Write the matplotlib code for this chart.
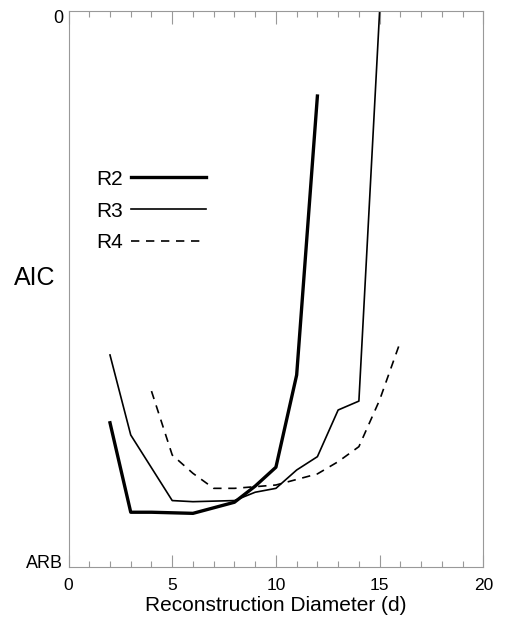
#!/usr/bin/env python3
# -*- coding: utf-8 -*-
"""
AIC vs reconstruction diameter for R2, R3, R4
"""

# %% 1. Libraries
# ----------------------------------------------------------------------------
import matplotlib
matplotlib.use('Agg')
import matplotlib.pyplot as plt
from matplotlib.ticker import MultipleLocator

plt.rcParams['font.family'] = ['Liberation Sans', 'DejaVu Sans']

# %% 2. Data (AIC on an arbitrary scale, 0 at top, -100 = ARB at bottom)
# ----------------------------------------------------------------------------
d_r2 = [2, 3, 4, 5, 6, 7, 8, 9, 10, 11, 12]
aic_r2 = [-74.1, -90.2, -90.2, -90.3, -90.4, -89.4, -88.4, -85.5, -82.1, -65.5, -15.3]

d_r3 = [2, 3, 4, 5, 6, 7, 8, 9, 10, 11, 12, 13, 14, 15]
aic_r3 = [-61.9, -76.3, -82.2, -88.1, -88.3, -88.2, -88.1, -86.6, -85.9,
          -82.6, -80.2, -71.8, -70.2, 0.0]

d_r4 = [4, 5, 6, 7, 8, 9, 10, 11, 12, 13, 14, 15, 16]
aic_r4 = [-68.4, -79.9, -83.2, -85.9, -85.9, -85.6, -85.3, -84.3, -83.3,
          -81.1, -78.4, -70.0, -59.5]

y_ticks = [-99, -1]
y_tick_labels = ['ARB', '0']
x_ticks = [0, 5, 10, 15, 20]

# %% 3. Plot
# ----------------------------------------------------------------------------
fig = plt.figure(figsize=(5.06, 6.19), dpi=100)
ax = fig.add_axes([0.1354, 0.0845, 0.8198, 0.8977])

ax.plot(d_r2, aic_r2, color='black', lw=2.4, label='R2')
ax.plot(d_r3, aic_r3, color='black', lw=1.2, label='R3')
ax.plot(d_r4, aic_r4, color='black', lw=1.2, ls=(0, (5, 4)), label='R4')

ax.set_xlim(0, 20)
ax.set_ylim(-100, 0)

# x ticks inside, on top and bottom
ax.set_xticks(x_ticks)
ax.xaxis.set_minor_locator(MultipleLocator(1))
ax.tick_params(axis='x', which='both', direction='in', top=True,
               color='#999999', labelsize=12.5, pad=8)
ax.tick_params(axis='x', which='major', length=9, width=0.8)
ax.tick_params(axis='x', which='minor', length=4, width=0.8)

ax.set_yticks(y_ticks)
ax.set_yticklabels(y_tick_labels)
ax.tick_params(axis='y', length=0, labelsize=13, pad=4)

for sp in ax.spines.values():
    sp.set_color('#999999')
    sp.set_linewidth(0.8)

ax.set_xlabel('Reconstruction Diameter (d)', fontsize=15, labelpad=2)
ax.set_ylabel('AIC', fontsize=18, rotation=0, va='center', ha='center')
ax.yaxis.set_label_coords(-0.082, 0.52)

# Legend: text first, line after
ax.legend(loc='center left', bbox_to_anchor=(0.066, 0.64), frameon=False,
          markerfirst=False, handlelength=3.6, handletextpad=0.4,
          labelspacing=0.62, borderpad=0, borderaxespad=0, fontsize=15)

fig.savefig('out.png', dpi=100)
